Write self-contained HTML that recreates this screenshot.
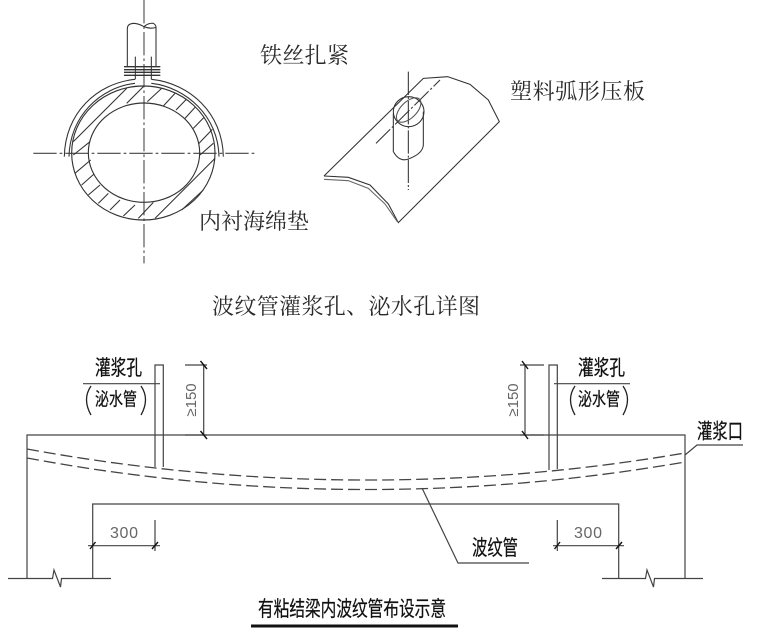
<!DOCTYPE html>
<html><head><meta charset="utf-8"><style>
html,body{margin:0;padding:0;background:#fff;width:780px;height:635px;overflow:hidden}
svg{display:block}
.t{font-family:"Liberation Sans","Noto Serif CJK SC",serif;font-size:22px;fill:#2a2a2a}
.c{font-family:"Liberation Sans","Noto Sans CJK SC",sans-serif;font-size:21px;fill:#111;stroke:#111;stroke-width:.25}
.n{font-family:"Liberation Sans",sans-serif;font-size:16px;fill:#666}
</style></head><body>
<svg width="780" height="635" viewBox="0 0 780 635" xmlns="http://www.w3.org/2000/svg">
<rect width="780" height="635" fill="#fff"/>
<g transform="translate(20,0) scale(.33333)" fill="none" stroke="#333" stroke-width="3.2">
  <path d="M372 0V790M40 460H705" stroke="#444" stroke-dasharray="70 9 8 9"/>
  <ellipse cx="370" cy="459" rx="215" ry="201" stroke-width="3.4"/>
  <ellipse cx="372" cy="458" rx="167" ry="149" stroke-width="3.4"/>
  <path d="M133 470C135 340 230 250 345 238M610 470C608 340 510 250 394 238"/>
  <path d="M147 470C149 350 240 262 345 250M597 470C595 350 500 262 394 250"/>
  <path d="M322 200V85Q322 72 340 70Q355 70 372 80Q385 68 400 70Q408 75 408 82V200M408 82Q390 88 372 80"/>
  <path d="M346 170V238M394 170V238"/>
  <path d="M312 200H421M312 209H421M312 217H421M312 226H421" stroke-width="4"/>
  <path d="M160 425L320 265M160 465L210 425M320 310L372 258M382 305L425 265M430 318L465 280M468 330L500 297M495 355L525 322M520 385L552 352M535 432L577 388M540 465L580 430M405 655L585 475M485 630L550 570M355 655L400 607M310 648L345 615M270 630L300 600M235 610L265 580M205 585L240 555M185 555L222 522M165 520L212 480"/>
</g>
<g transform="translate(310,50) scale(.33333)" fill="none" stroke="#333" stroke-width="3.2">
  <path d="M42 378L340 85L413 80L480 103L535 150L568 215L265 518L235 462L180 405L115 382L42 378"/>
  <path d="M42 388L115 392L175 415L225 462L262 515" stroke="#666"/>
  <path d="M295 65V420" stroke="#333" stroke-dasharray="70 6 6 6"/>
  <path d="M198 280L390 90" stroke-dasharray="60 7 7 7"/>
  <ellipse cx="296" cy="185" rx="46" ry="45"/>
  <ellipse cx="296" cy="180" rx="46" ry="24" transform="rotate(-45 296 180)" stroke="#555"/>
  <path d="M250 190V305Q270 340 300 325Q338 310 340 285V185"/>
</g>
<g fill="none" stroke="#444" stroke-width="1.2">
  <path d="M27 578V435H685V578" />
  <path d="M92.700 578V504H618.700V578"/>
  <path d="M8 578.500H52.500L54 570L60.500 587L61.500 578.500H111"/>
  <path d="M602 578.500H645.500L647 570L653.500 587L654.500 578.500H703"/>
  <path d="M155 467V365H163.300V467M549 470V365H557.300V469"/>
  <path d="M27 449Q356 509 685 453" stroke-dasharray="12 5" stroke-width="1.3"/>
  <path d="M27 458Q356 519 685 462" stroke-dasharray="12 5" stroke-width="1.3"/>
  <path d="M83 383.700H160M554 383.700H630"/>
  <path d="M185 365H207M203.700 365V435M185 435H207"/>
  <path d="M544 365H520M525 365V435M544 435H520"/>
  <path d="M155 520V551M88 545.700H160"/>
  <path d="M557.300 520V551M553 545.700H624"/>
  <path d="M685 455L697 445H743"/>
  <path d="M422 488L458 563H529"/>
  <g stroke="#111" stroke-width="1.400">
    <path d="M200.500 361L207 369M200.500 431L207 439M522 361L528 369M522 431L528 439"/>
    <path d="M90 549L95.500 542M152 549L158 542M554.500 549L560 542M616 549L622 542"/>
  </g>
</g>
<path d="M251 626H458" stroke="#111" stroke-width="3"/>
<text class="t" x="260" y="63" textLength="89">铁丝扎紧</text>
<text class="t" x="510" y="99" textLength="135">塑料弧形压板</text>
<text class="t" x="199" y="229" textLength="110">内衬海绵垫</text>
<text class="t" x="212" y="314" textLength="268">波纹管灌浆孔、泌水孔详图</text>
<text class="c" x="95" y="375" textLength="47" lengthAdjust="spacingAndGlyphs">灌浆孔</text>
<text class="c" x="578" y="375" textLength="47" lengthAdjust="spacingAndGlyphs">灌浆孔</text>
<text class="c" x="95" y="405.500" style="font-size:18px" textLength="42" lengthAdjust="spacingAndGlyphs">泌水管</text>
<text class="c" x="578" y="405.500" style="font-size:18px" textLength="42" lengthAdjust="spacingAndGlyphs">泌水管</text>
<path d="M91 386Q82 399 91 415M141 386Q150 399 141 415M575 386Q566 399 575 415M623 386Q632 399 623 415" fill="none" stroke="#222" stroke-width="1.300"/>
<text class="c" x="697" y="438.500" textLength="46" lengthAdjust="spacingAndGlyphs">灌浆口</text>
<text class="c" x="472" y="555" textLength="46" lengthAdjust="spacingAndGlyphs">波纹管</text>
<text class="c" x="258" y="616" textLength="188" lengthAdjust="spacingAndGlyphs">有粘结梁内波纹管布设示意</text>
<text class="n" x="124" y="538" text-anchor="middle" textLength="28">300</text>
<text class="n" x="588" y="538" text-anchor="middle" textLength="28">300</text>
<text class="n" transform="translate(196,400) rotate(-90)" text-anchor="middle" style="font-size:15px">≥150</text>
<text class="n" transform="translate(518,400) rotate(-90)" text-anchor="middle" style="font-size:15px">≥150</text>
</svg>
</body></html>
